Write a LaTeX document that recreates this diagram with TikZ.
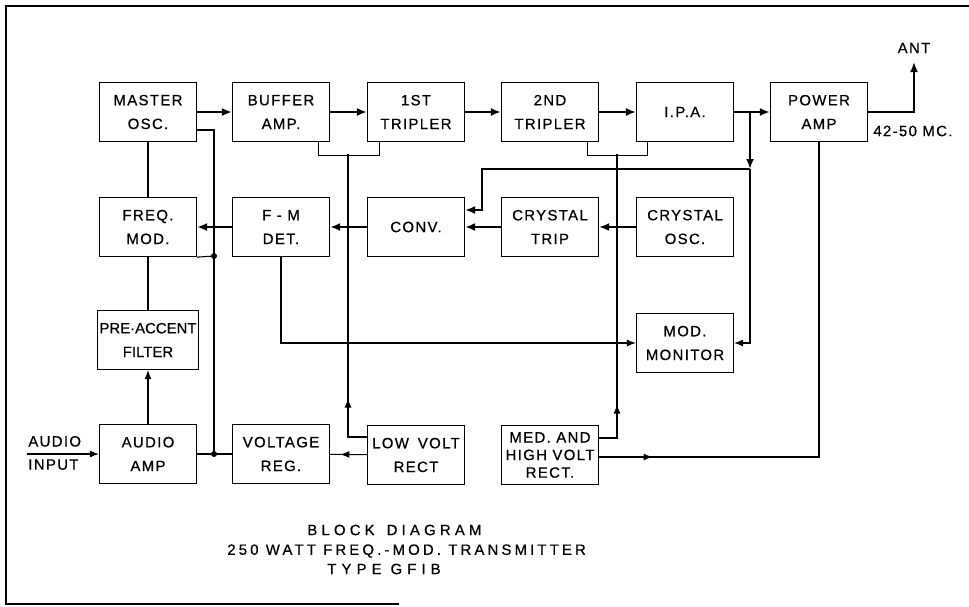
\documentclass[tikz,border=0pt]{standalone}
\usepackage{fontspec}
\setmainfont{Liberation Sans}[LetterSpace=9, FakeBold=0.6]
\usetikzlibrary{arrows.meta,positioning,decorations.markings}

\tikzset{midarrow/.style={postaction={decorate},
	decoration={markings, mark=at position #1 with {\arrow{Latex[length=1.8mm,width=1.4mm]}}}}}

\begin{document}
\begin{tikzpicture}[x=0.02cm,y=-0.02cm]
\tikzstyle{block} = [
	shape=rectangle,
	draw=black, %border of the box
	line width=0.7pt,
	minimum width=1.94cm, %size of the box
	minimum height=1.18cm,
	inner sep=1pt,
	align=center,
	font=\fontsize{8.5}{13.5}\selectfont
];
\tikzstyle{lettering} = [inner sep=0pt, font=\fontsize{8.5}{12}\selectfont];
\tikzstyle{rf} = [-{Latex[length=2mm,width=1.6mm]}, line width=1.1pt];
\tikzstyle{feed} = [line width=0.6pt];
\tikzstyle{feedarrow} = [feed, -{Latex[length=1.8mm,width=1.4mm]}];
\tikzstyle{dot} = [circle, fill=black, inner sep=0pt, minimum size=1.2mm];

\useasboundingbox (0,0) rectangle (969,606);
\draw[line width=1.3pt] (969,6) -- (6,6) -- (6,604) -- (399,604);

%transmitter chain
\node[block](mosc) at (148,112) {MASTER\\OSC.};
\node[block](buf) at (281,112) {BUFFER\\AMP.};
\node[block](trip1) at (416,112) {1ST\\TRIPLER};
\node[block](trip2) at (550,112) {2ND\\TRIPLER};
\node[block](ipa) at (685,112) {I.P.A.};
\node[block](pa) at (819,112) {POWER\\AMP};

%frequency control
\node[block](fmod) at (148,227) {FREQ.\\MOD.};
\node[block](fmdet) at (281,227) {F - M\\DET.};
\node[block](conv) at (416,227) {CONV.};
\node[block](xtrip) at (550,227) {CRYSTAL\\TRIP};
\node[block](xosc) at (685,227) {CRYSTAL\\OSC.};

\node[block, font=\fontsize{8.5}{13.5}\selectfont\addfontfeatures{LetterSpace=0}](pre) at (148,340) {PRE·ACCENT\\FILTER};
\node[block](mon) at (685,343) {MOD.\\MONITOR};

%audio and supplies
\node[block](aamp) at (148,454) {AUDIO\\AMP};
\node[block](vreg) at (281,454) {VOLTAGE\\REG.};
\node[block](lvr) at (416,455) {LOW\hspace{0.6em}VOLT\\RECT};
\node[block, font=\fontsize{8.5}{10}\selectfont](mhvr) at (550,455) {MED. AND\\HIGH VOLT\\RECT.};

%r-f path
\draw[rf]
	(mosc) edge[] (buf)
	(buf) edge[] (trip1)
	(trip1) edge[] (trip2)
	(trip2) edge[] (ipa)
	(ipa) edge[] (pa)
;

%crystal path
\draw[rf]
	(xosc) edge[] (xtrip)
	(xtrip) edge[] (conv)
	(conv) edge[] (fmdet)
	(fmdet) edge[] (fmod)
;

%antenna
\coordinate (ant) at (914,62);
\node[lettering, above=0.17cm of ant](antname) {ANT};
\draw[rf] (pa.east) -| (ant);
\node[lettering, anchor=west](band) at (873,131) {42-50 MC.};

%sample of the i.p.a. output
\coordinate (tap) at (750,112);
\coordinate (tapdn) at (750,169);
\draw[rf] (tap) -- (tapdn);
\draw[rf] (tapdn) -- (482,169) |- ([yshift=0.34cm]conv.east);
\draw[feedarrow] (tapdn) |- (mon.east);
\draw[feedarrow] (fmdet.south) |- (mon.west);

%audio
\coordinate (ain) at (27,454);
\node[lettering, anchor=south west](ainup) at (28,447) {AUDIO};
\node[lettering, anchor=north west](ainlo) at (28,459) {INPUT};
\draw[feedarrow] (ain) -- (aamp);
\draw[feedarrow] (aamp) -- (pre);
\draw[feed]
	(mosc) edge[] (fmod)
	(fmod) edge[] (pre)
	(aamp) edge[] (vreg)
;

%plate supply bus
\coordinate (jfm) at (214,256);
\coordinate (jaud) at (214,454);
\draw[feed] ([yshift=-0.36cm]mosc.east) -| (jaud);
\draw[feed] (fmod.south east) -- (jfm);
\node[dot](dfm) at (jfm) {};
\node[dot](daud) at (jaud) {};
\draw[feed, midarrow=0.72] (lvr) -- (vreg);

%rectifier feeds
\draw[feed] ([xshift=-0.24cm]buf.south east) -- ++(0,13) -| ([xshift=0.26cm]trip1.south west);
\draw[feed] ([xshift=-0.24cm]trip2.south east) -- ++(0,13) -| ([xshift=0.24cm]ipa.south west);
\draw[feed, midarrow=0.19] ([yshift=0.36cm]lvr.west) -| (348,154);
\draw[feed, midarrow=0.17] ([yshift=0.34cm]mhvr.east) -| (617,154);
\draw[feed, midarrow=0.1] ([yshift=-0.04cm]mhvr.east) -| (pa.south);

%caption
\node[lettering, anchor=west, font=\fontsize{8.5}{12}\selectfont\addfontfeatures{LetterSpace=28}](title) at (307,530) {BLOCK\hspace{0.8em}DIAGRAM};
\node[lettering, anchor=west, font=\fontsize{8.5}{12}\selectfont\addfontfeatures{LetterSpace=21}](subtitle) at (227,551) {250 WATT FREQ.-MOD. TRANSMITTER};
\node[lettering, anchor=west, font=\fontsize{8.5}{12}\selectfont\addfontfeatures{LetterSpace=34}](type) at (327,569) {TYPE\hspace{0.6em}GFIB};
\end{tikzpicture}
\end{document}
